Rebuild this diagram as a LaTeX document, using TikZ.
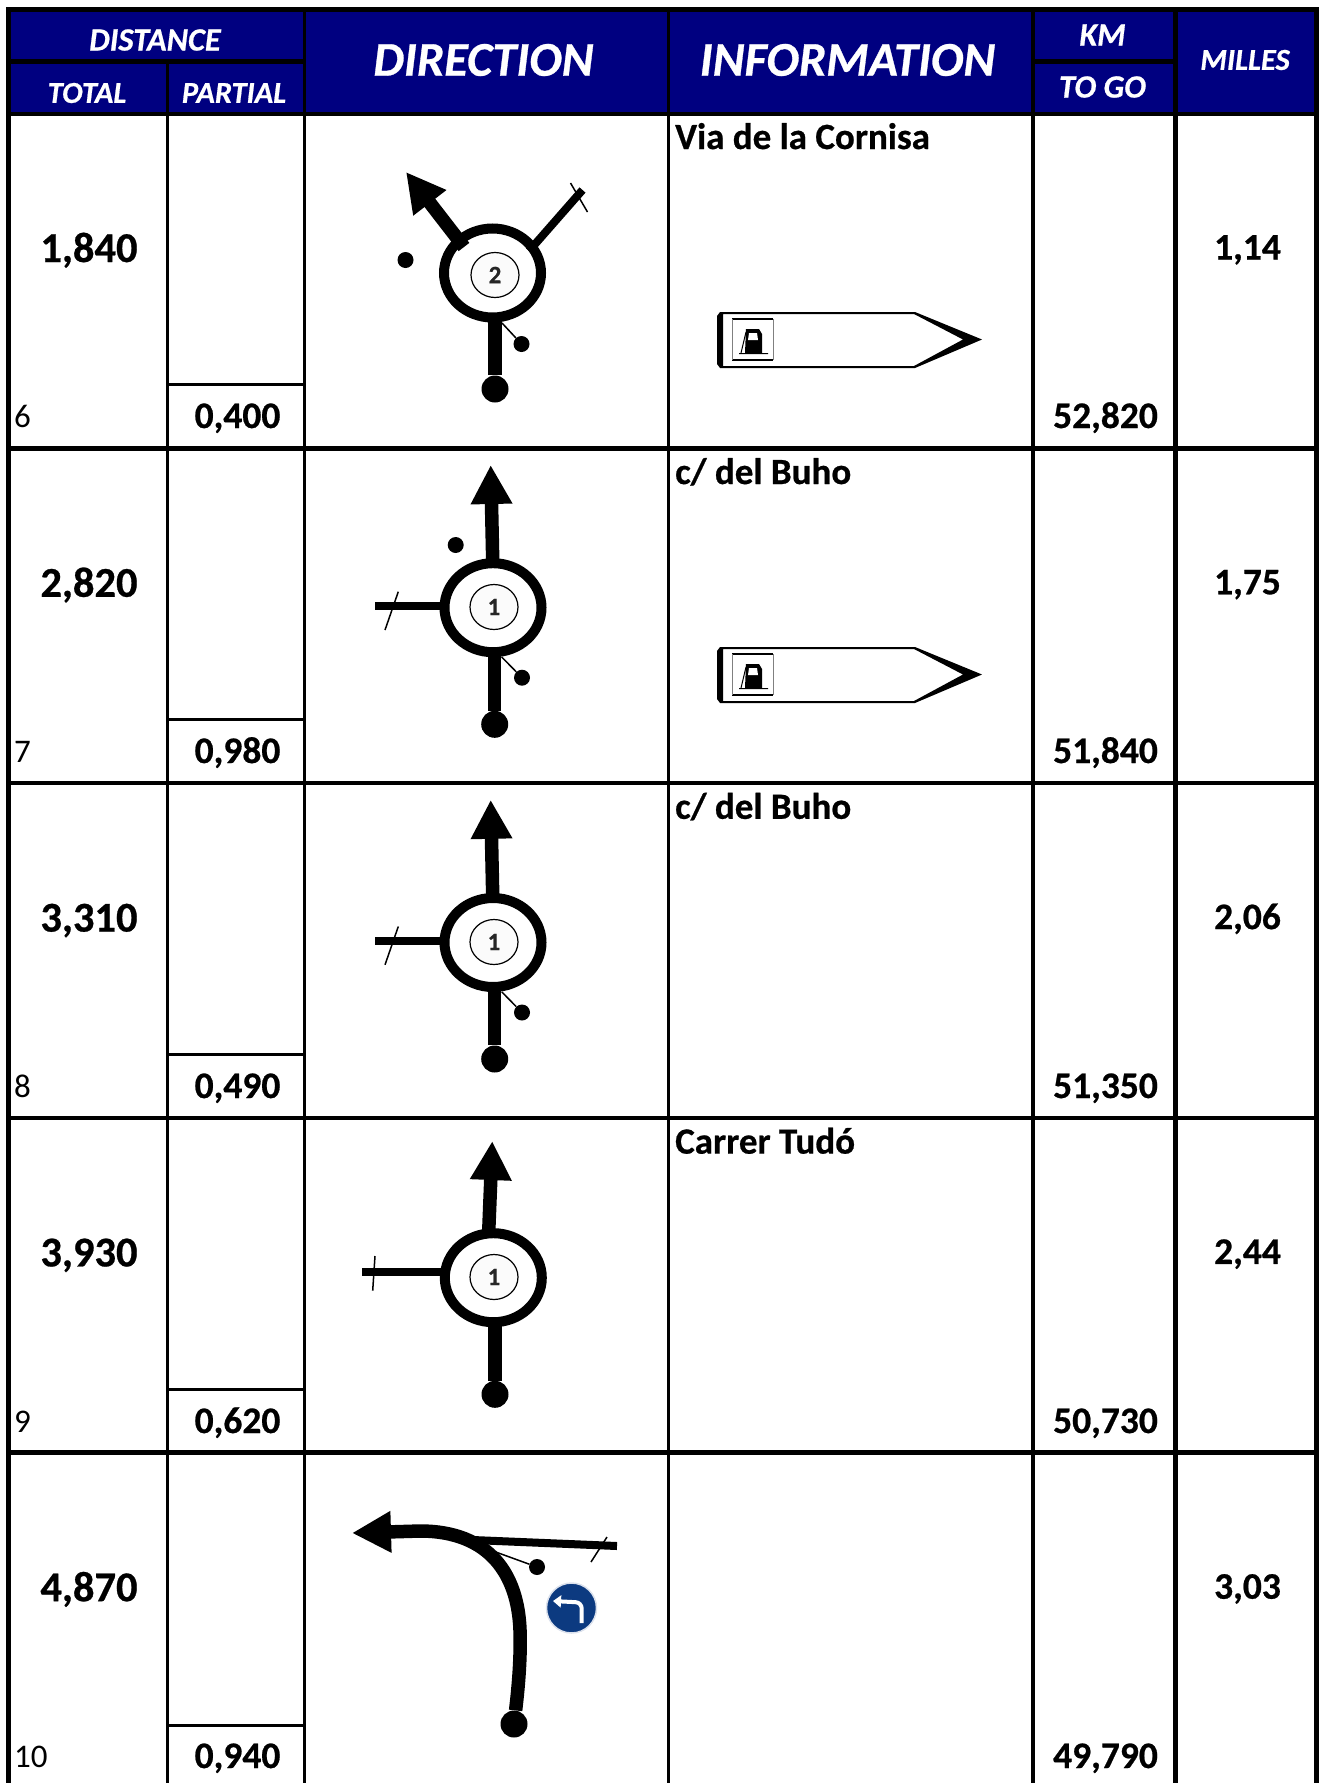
\documentclass[tikz,border=0pt]{standalone}
\usepackage{fontspec}
\setmainfont{Carlito}[BoldFeatures={FakeBold=0.6},BoldItalicFeatures={FakeBold=0.6}]
\usetikzlibrary{arrows.meta,shapes.geometric}
\definecolor{headblue}{RGB}{0,0,128}
\definecolor{signblue}{RGB}{12,58,128}
\tikzstyle{headBig}=[anchor=center, text=white, font=\fontsize{48.5}{48.5}\selectfont\bfseries\itshape]
\tikzstyle{headMid}=[anchor=center, text=white, font=\fontsize{32.5}{32.5}\selectfont\bfseries\itshape]
\tikzstyle{headSmall}=[anchor=center, text=white, font=\fontsize{30.5}{30.5}\selectfont\bfseries\itshape]
\tikzstyle{bigval}=[anchor=base, inner sep=0pt, font=\fontsize{42.5}{42.5}\selectfont\bfseries]
\tikzstyle{smallval}=[anchor=base, inner sep=0pt, font=\fontsize{37.5}{37.5}\selectfont\bfseries]
\tikzstyle{idxval}=[anchor=base west, inner sep=0pt, font=\fontsize{33}{33}\selectfont]
\tikzstyle{infoval}=[anchor=base west, inner sep=0pt, font=\fontsize{37}{37}\selectfont\bfseries]
\tikzstyle{gridThin}=[line width=3pt]
\tikzstyle{gridThick}=[line width=4.5pt]
\tikzstyle{ring}=[draw, ellipse, line width=10pt, inner sep=0pt, minimum width=97pt, minimum height=89pt]
\tikzstyle{lap}=[draw, ellipse, fill=gray!3, line width=1.2pt, inner sep=0pt, minimum width=48pt, minimum height=45pt, font=\fontsize{25}{25}\selectfont\bfseries, text=black!85]
\tikzstyle{startdot}=[fill, circle, inner sep=0pt, minimum size=27pt]
\tikzstyle{sidedot}=[fill, circle, inner sep=0pt, minimum size=16pt]
\tikzstyle{stem}=[line width=13.5pt]
\tikzstyle{exitArrow}=[line width=13.5pt, -{Triangle[length=39pt,width=39pt]}]
\tikzstyle{sideroad}=[line width=8pt]
\tikzstyle{tick}=[line width=1.5pt]
\tikzstyle{feeler}=[line width=1.5pt]
% fuel sign, top left corner given by the shift
\newcommand{\fuelsign}[1]{%
  \begin{scope}[shift={(0,#1)}]
    \fill[even odd rule] (720,312) -- (915,312) -- (982,339.5) -- (915,368) -- (720,368)
      -- (717,364) -- (717,316) -- cycle
      (723,314) -- (914,314) -- (963,339.5) -- (914,366) -- (723,366) -- cycle;
    \draw[line width=2pt] (732,319) -- (773,319) (732,360) -- (773,360);
    \draw[line width=0.7pt, gray] (732,319) -- (732,360) (773,319) -- (773,360);
    \fill (746,329) -- (759,329) -- (762,334) -- (762,353) -- (745,353) -- cycle;
    \fill[white] (749,333) -- (757,333) -- (758,340) -- (748,340) -- cycle;
    \draw[line width=1pt] (746,332) -- (741,353) (739,353.5) -- (768,353.5);
  \end{scope}}

\begin{document}
\begin{tikzpicture}[x=1pt,y=-1pt]
    \useasboundingbox (0,0) rectangle (1321,1783);

    % header band
    \fill[headblue] (9,10) rectangle (1316,114);

    % grid
    \draw[line width=5pt] (6,9.5) -- (1319,9.5);
    \draw[line width=5pt] (8.3,7) -- (8.3,1783);
    \draw[gridThick] (1316.5,7) -- (1316.5,1783);
    \draw[gridThin] (167,62) -- (167,1783);
    \draw[gridThin] (304.3,10) -- (304.3,1783);
    \draw[gridThin] (668,10) -- (668,1783);
    \draw[line width=3.5pt] (1032.8,10) -- (1032.8,1783);
    \draw[gridThick] (1175.5,10) -- (1175.5,1783);
    \draw[gridThick] (8,61.5) -- (304,61.5);
    \draw[gridThick] (1033,61.5) -- (1175,61.5);
    \draw[gridThick] (8,114) -- (1317,114);
    \draw[gridThick] (8,448.5) -- (1317,448.5);
    \draw[gridThick] (8,782.8) -- (1317,782.8);
    \draw[gridThick] (8,1118.2) -- (1317,1118.2);
    \draw[gridThick] (8,1452.7) -- (1317,1452.7);
    \draw[gridThin] (167,384) -- (304,384);
    \draw[gridThin] (167,719.2) -- (304,719.2);
    \draw[gridThin] (167,1054.4) -- (304,1054.4);
    \draw[gridThin] (167,1389.7) -- (304,1389.7);
    \draw[gridThin] (167,1725) -- (304,1725);

    % header texts
    \node[headMid] (hDistance) at (155,40) {DISTANCE};
    \node[headSmall] (hTotal) at (87,93) {TOTAL};
    \node[headSmall] (hPartial) at (234,93) {PARTIAL};
    \node[headBig] (hDirection) at (483.5,60) {DIRECTION};
    \node[headBig] (hInformation) at (847.5,60) {INFORMATION};
    \node[headMid] (hKm) at (1102.5,35) {KM};
    \node[headMid] (hToGo) at (1102.5,87) {TO GO};
    \node[headSmall] (hMilles) at (1245,60) {MILLES};

    % row 1
    \node[bigval] (total1) at (89,262) {1,840};
    \node[smallval] (partial1) at (237.5,428) {0,400};
    \node[idxval] (idx1) at (14,427) {6};
    \node[infoval] (info1) at (675,149) {Via de la Cornisa};
    \node[smallval] (togo1) at (1105.5,428) {52,820};
    \node[smallval] (milles1) at (1247.5,259.5) {1,14};

    % row 2
    \node[bigval] (total2) at (89,596.8) {2,820};
    \node[smallval] (partial2) at (237.5,763) {0,980};
    \node[idxval] (idx2) at (14,762) {7};
    \node[infoval] (info2) at (675,484) {c/ del Buho};
    \node[smallval] (togo2) at (1105.5,763) {51,840};
    \node[smallval] (milles2) at (1247.5,594.3) {1,75};

    % row 3
    \node[bigval] (total3) at (89,931.6) {3,310};
    \node[smallval] (partial3) at (237.5,1098) {0,490};
    \node[idxval] (idx3) at (14,1097) {8};
    \node[infoval] (info3) at (675,818.8) {c/ del Buho};
    \node[smallval] (togo3) at (1105.5,1098) {51,350};
    \node[smallval] (milles3) at (1247.5,929.1) {2,06};

    % row 4
    \node[bigval] (total4) at (89,1266.4) {3,930};
    \node[smallval] (partial4) at (237.5,1433) {0,620};
    \node[idxval] (idx4) at (14,1432) {9};
    \node[infoval] (info4) at (675,1153.6) {Carrer Tudó};
    \node[smallval] (togo4) at (1105.5,1433) {50,730};
    \node[smallval] (milles4) at (1247.5,1263.9) {2,44};

    % row 5
    \node[bigval] (total5) at (89,1601.2) {4,870};
    \node[smallval] (partial5) at (237.5,1768) {0,940};
    \node[idxval] (idx5) at (14,1767) {10};
    \node[smallval] (togo5) at (1105.5,1768) {49,790};
    \node[smallval] (milles5) at (1247.5,1598.7) {3,03};

    % fuel signs
    \fuelsign{0}
    \fuelsign{335}

    % roundabout 1
    \node[ring] (r1) at (492.5,273) {};
    \node[lap] (n1) at (495,275) {2};
    \node[startdot] (s1) at (495,389) {};
    \node[sidedot] (d1) at (521.5,344) {};
    \node[sidedot] (u1) at (405.5,260) {};
    \coordinate (a1) at (406,172);
    \coordinate (b1) at (464,247);
    \coordinate (c1) at (529,251);
    \coordinate (e1) at (582.5,190);
    \coordinate (k1) at (570.5,183);
    \coordinate (l1) at (587.5,212);
    \coordinate (f1) at (502,323);
    \draw[stem] (495,320) -- (s1);
    \draw[exitArrow] (b1) -- (a1);
    \draw[sideroad] (c1) -- (e1);
    \draw[tick] (k1) -- (l1);
    \draw[feeler] (f1) -- (d1);

    % roundabout 2
    \node[ring] (r2) at (493,607.7) {};
    \node[lap] (n2) at (494,607) {1};
    \node[startdot] (s2) at (494.7,724.3) {};
    \node[sidedot] (d2) at (522,677.7) {};
    \node[sidedot] (u2) at (455.7,545) {};
    \coordinate (a2) at (490.7,465);
    \coordinate (e2) at (375,605.7);
    \coordinate (k2) at (398.3,591.7);
    \coordinate (l2) at (385,630);
    \coordinate (f2) at (501.7,657);
    \draw[stem] (494.7,655) -- (s2);
    \draw[exitArrow] (492.7,560) -- (a2);
    \draw[sideroad] (442,605.7) -- (e2);
    \draw[tick] (k2) -- (l2);
    \draw[feeler] (f2) -- (d2);

    % roundabout 3
    \node[ring] (r3) at (493,942.5) {};
    \node[lap] (n3) at (494,942) {1};
    \node[startdot] (s3) at (494.7,1059) {};
    \node[sidedot] (d3) at (522,1012.5) {};
    \coordinate (a3) at (490.7,799.8);
    \coordinate (e3) at (375,940.5);
    \coordinate (k3) at (398.3,926.5);
    \coordinate (l3) at (385,964.8);
    \coordinate (f3) at (501.7,991.8);
    \draw[stem] (494.7,990) -- (s3);
    \draw[exitArrow] (492.7,895) -- (a3);
    \draw[sideroad] (442,940.5) -- (e3);
    \draw[tick] (k3) -- (l3);
    \draw[feeler] (f3) -- (d3);

    % roundabout 4
    \node[ring] (r4) at (493.3,1277.7) {};
    \node[lap] (n4) at (494,1277) {1};
    \node[startdot] (s4) at (495,1394.3) {};
    \coordinate (a4) at (492.3,1141);
    \coordinate (e4) at (362,1272.3);
    \coordinate (k4) at (375,1256);
    \coordinate (l4) at (372.7,1290.7);
    \draw[stem] (495,1325) -- (s4);
    \draw[exitArrow] (488.7,1232) -- (a4);
    \draw[sideroad] (442,1272.3) -- (e4);
    \draw[tick] (k4) -- (l4);

    % left turn in row 5
    \node[startdot] (s5) at (514,1724) {};
    \node[sidedot] (d5) at (537,1567) {};
    \node[circle, fill=signblue, draw=white!85!signblue, line width=1.5pt, inner sep=0pt, minimum size=50pt] (b5) at (571.5,1608) {};
    \coordinate (a5) at (352,1533);
    \coordinate (j5) at (473,1540);
    \coordinate (e5) at (617,1546);
    \coordinate (k5) at (607,1537);
    \coordinate (l5) at (591,1562);
    \coordinate (f5) at (493,1551);
    \draw[sideroad] (j5) -- (e5);
    \draw[tick] (k5) -- (l5);
    \draw[feeler] (f5) -- (d5);
    \draw[stem, -{Triangle[length=39pt,width=39pt]}] (s5) .. controls (518,1690) and (521,1660) .. (520,1630)
      .. controls (518,1575) and (490,1531) .. (420,1531) -- (a5);
    \draw[white, line width=4pt, rounded corners=6pt, -{Triangle[length=8pt,width=12pt]}] (581.7,1623) -- (581.7,1602.5) -- (553,1601);
\end{tikzpicture}
\end{document}
